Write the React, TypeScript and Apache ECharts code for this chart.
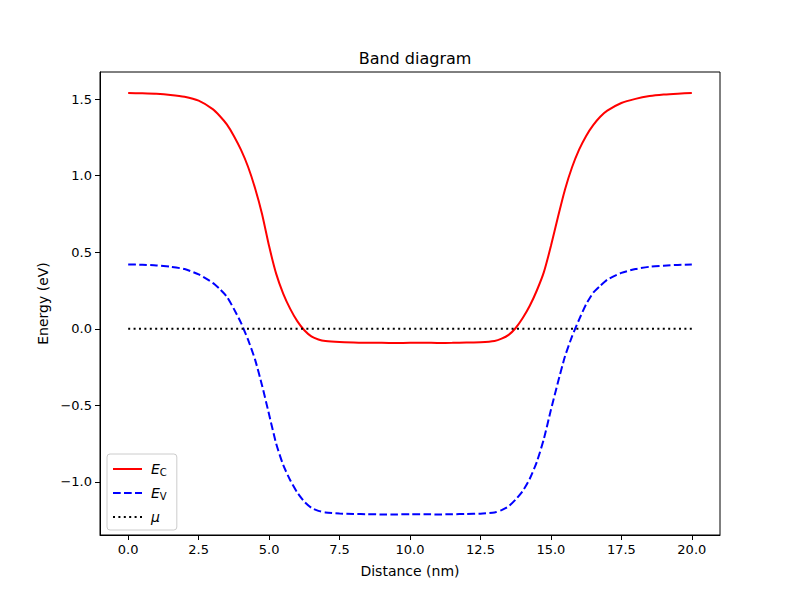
import React, { useEffect, useRef } from "react";
import * as echarts from "echarts";

const distance = [0, 0.5, 1.0, 1.5, 2.0, 2.5, 3.0, 3.25, 3.5, 3.75, 4.0, 4.25, 4.5, 4.75, 5.0, 5.25, 5.5, 5.75, 6.0, 6.25, 6.5, 6.75, 7.0, 7.5, 8.0, 8.5, 9.0, 9.5, 10.0, 10.5, 11.0, 11.5, 12.0, 12.5, 13.0, 13.25, 13.5, 13.75, 14.0, 14.25, 14.5, 14.75, 15.0, 15.25, 15.5, 15.75, 16.0, 16.25, 16.5, 16.75, 17.0, 17.5, 18.0, 18.5, 19.0, 19.5, 20.0];

const ecValues = [1.54, 1.538, 1.535, 1.528, 1.516, 1.49, 1.435, 1.39, 1.335, 1.26, 1.17, 1.06, 0.92, 0.75, 0.54, 0.36, 0.23, 0.13, 0.05, -0.01, -0.05, -0.07, -0.08, -0.087, -0.09, -0.092, -0.092, -0.093, -0.092, -0.091, -0.093, -0.092, -0.09, -0.088, -0.08, -0.065, -0.04, 0.005, 0.07, 0.15, 0.25, 0.37, 0.54, 0.73, 0.91, 1.055, 1.17, 1.26, 1.33, 1.385, 1.425, 1.475, 1.502, 1.52, 1.53, 1.536, 1.54];

const evValues = [0.42, 0.418, 0.414, 0.405, 0.39, 0.355, 0.3, 0.26, 0.21, 0.13, 0.04, -0.07, -0.2, -0.37, -0.56, -0.75, -0.89, -0.99, -1.07, -1.13, -1.17, -1.19, -1.2, -1.207, -1.21, -1.212, -1.213, -1.213, -1.212, -1.212, -1.213, -1.212, -1.21, -1.208, -1.2, -1.185, -1.16, -1.115, -1.06, -0.98, -0.87, -0.72, -0.53, -0.35, -0.18, -0.05, 0.06, 0.16, 0.235, 0.28, 0.32, 0.365, 0.39, 0.405, 0.412, 0.417, 0.42];

const muX = [0, 20];
const muValues = [0, 0];

const xTicks = [0, 2.5, 5, 7.5, 10, 12.5, 15, 17.5, 20];
const yTicks = [-1.0, -0.5, 0.0, 0.5, 1.0, 1.5];

const FONT = "DejaVu Sans";

export default function App() {
  const ref = useRef<HTMLDivElement>(null);
  useEffect(() => {
    if (!ref.current) return;
    const chart = echarts.init(ref.current, null, { renderer: "svg" });
    const fmtMinus = (v: number, d: number) => {
      const s = Math.abs(v).toFixed(d);
      return v < -1e-9 ? "\u2212" + s : s;
    };
    const ec = distance.map((x, i) => [x, ecValues[i]]);
    const ev = distance.map((x, i) => [x, evValues[i]]);
    const mu = muX.map((x, i) => [x, muValues[i]]);
    const legendRich = {
      i: { fontStyle: "italic", fontSize: 14, fontFamily: FONT, color: "#000", padding: [0, 0, 0, 4] },
      s: { fontSize: 10, fontFamily: FONT, color: "#000", verticalAlign: "bottom", padding: [6, 0, 0, 0] },
    };
    chart.setOption({
      animation: false,
      title: {
        text: "Band diagram",
        left: 410,
        textAlign: "center",
        top: 45,
        textStyle: { fontFamily: FONT, fontSize: 16, fontWeight: "normal", color: "#000" },
      },
      grid: {
        left: 100,
        right: 80,
        top: 72,
        bottom: 65,
        show: true,
        borderColor: "#000",
        borderWidth: 1,
        backgroundColor: "transparent",
      },
      legend: {
        orient: "vertical",
        left: 107,
        top: 454,
        itemWidth: 29,
        itemHeight: 10,
        itemGap: 9,
        padding: [8, 10, 6, 5],
        backgroundColor: "#fff",
        borderColor: "#ccc",
        borderWidth: 1,
        borderRadius: 3,
        itemStyle: { opacity: 0 },
        data: ["EC", "EV", "mu"],
        formatter: (name: string) => {
          if (name === "EC") return "{i|E}{s|C}";
          if (name === "EV") return "{i|E}{s|V}";
          return "{i|\u03bc}";
        },
        textStyle: { fontFamily: FONT, fontSize: 14, color: "#000", rich: legendRich },
      },
      xAxis: {
        type: "value",
        min: -1,
        max: 21,
        name: "Distance (nm)",
        nameLocation: "middle",
        nameGap: 29,
        nameTextStyle: { fontFamily: FONT, fontSize: 14, color: "#000" },
        axisLine: { show: true, onZero: false, lineStyle: { color: "#000", width: 1 } },
        axisTick: { show: true, inside: false, length: 5, customValues: xTicks, lineStyle: { color: "#000" } },
        axisLabel: {
          customValues: xTicks,
          margin: 8,
          fontFamily: FONT,
          fontSize: 13,
          color: "#000",
          formatter: (v: number) => fmtMinus(v, 1),
        },
        splitLine: { show: false },
      },
      yAxis: {
        type: "value",
        min: -1.3475,
        max: 1.6775,
        name: "Energy (eV)",
        nameLocation: "middle",
        nameGap: 50,
        nameTextStyle: { fontFamily: FONT, fontSize: 14, color: "#000" },
        axisLine: { show: true, onZero: false, lineStyle: { color: "#000", width: 1 } },
        axisTick: { show: true, inside: false, length: 5, customValues: yTicks, lineStyle: { color: "#000" } },
        axisLabel: {
          customValues: yTicks,
          margin: 8,
          fontFamily: FONT,
          fontSize: 13,
          color: "#000",
          formatter: (v: number) => fmtMinus(v, 1),
        },
        splitLine: { show: false },
      },
      series: [
        {
          name: "EC",
          type: "line",
          data: ec,
          showSymbol: false,
          symbol: "none",
          smooth: 0.2,
          lineStyle: { color: "#ff0000", width: 2 },
          itemStyle: { color: "#ff0000" },
        },
        {
          name: "EV",
          type: "line",
          data: ev,
          showSymbol: false,
          symbol: "none",
          smooth: 0.2,
          lineStyle: { color: "#0000ff", width: 2, type: [7.7, 3.3] },
          itemStyle: { color: "#0000ff" },
        },
        {
          name: "mu",
          type: "line",
          data: mu,
          showSymbol: false,
          symbol: "none",
          lineStyle: { color: "#000", width: 2, type: [2, 3.4] },
          itemStyle: { color: "#000" },
        },
      ],
    });
    return () => chart.dispose();
  }, []);
  return <div ref={ref} style={{ width: 800, height: 600, margin: -8 }} />;
}
